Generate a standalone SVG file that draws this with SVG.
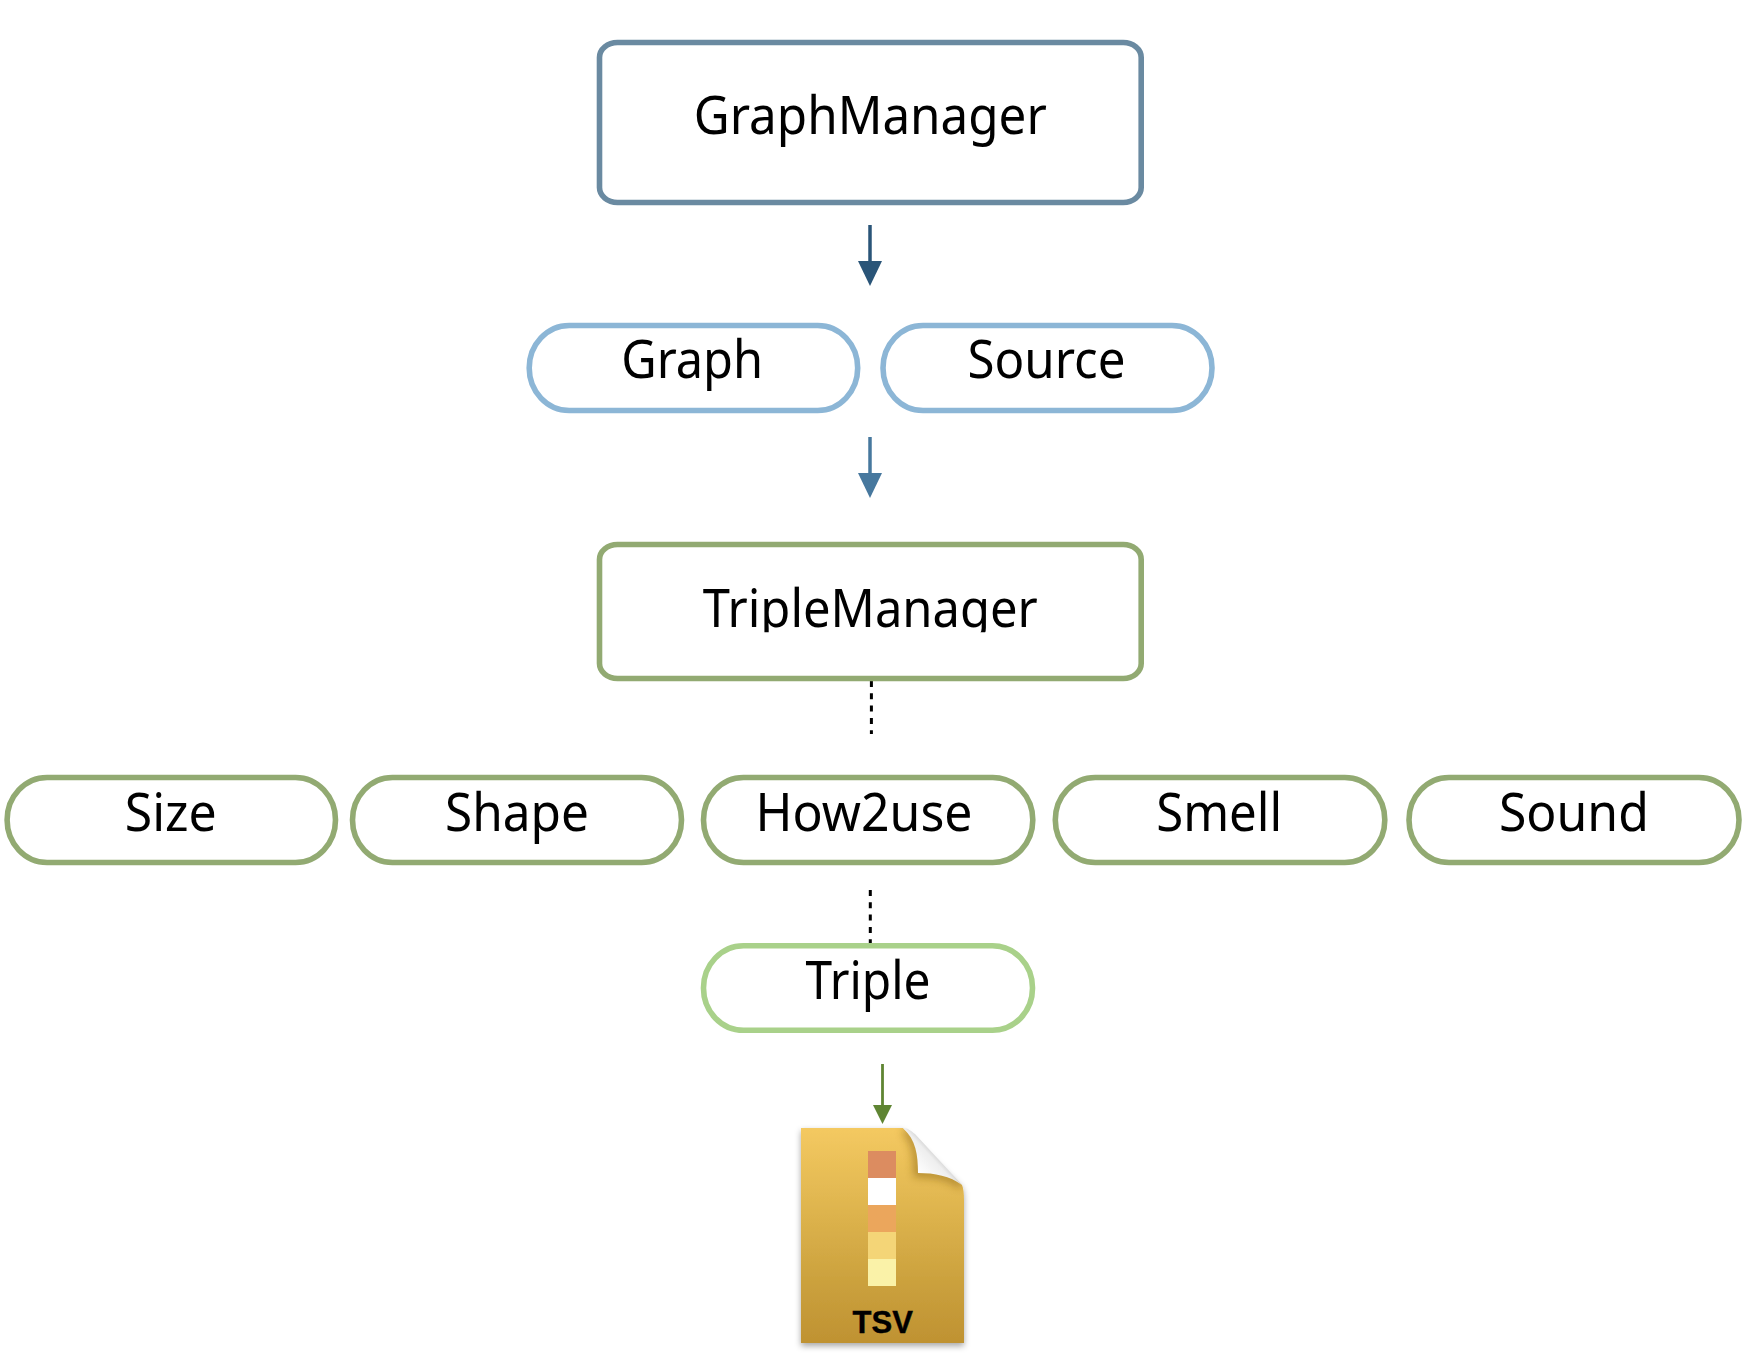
<svg xmlns="http://www.w3.org/2000/svg" width="1756" height="1372" viewBox="0 0 1756 1372">
<style>
.t{font-family:"Noto Sans","Open Sans",sans-serif;font-size:52px;fill:#000;text-anchor:middle}
.n{fill:#fff;stroke-width:5.6}
.d{stroke:#000;stroke-width:3;stroke-dasharray:6 6.3;fill:none}
.g{stroke:#92aa72}
.b{stroke:#8cb6d6}
</style>
<defs>
<linearGradient id="fg" x1="0" y1="0" x2="0" y2="1"><stop offset="0" stop-color="#f4c961"/><stop offset="0.3" stop-color="#e3b952"/><stop offset="0.7" stop-color="#cca23e"/><stop offset="1" stop-color="#bf9232"/></linearGradient>
<linearGradient id="cu" gradientUnits="userSpaceOnUse" x1="916" y1="1172" x2="942" y2="1148"><stop offset="0" stop-color="#fff"/><stop offset="0.6" stop-color="#eeeeee"/><stop offset="1" stop-color="#a8a8a8"/></linearGradient>
<filter id="sh" x="-10%" y="-10%" width="120%" height="120%"><feDropShadow dx="0" dy="3" stdDeviation="3" flood-color="#000" flood-opacity="0.35"/></filter>
<filter id="bl" x="-30%" y="-30%" width="160%" height="160%"><feGaussianBlur stdDeviation="4"/></filter>
<clipPath id="tm"><rect x="690" y="560" width="380" height="72.3"/></clipPath>
<clipPath id="pg"><path d="M801 1128H903L962 1185Q964 1190 964 1200V1343H801Z"/></clipPath>
</defs>
<g id="connectors">
<path d="M870 225V263" stroke="#2a5578" stroke-width="3.5" fill="none"/><path d="M858 261H882L870 286Z" fill="#2a5578"/>
<path d="M870 437V475" stroke="#47789e" stroke-width="3.5" fill="none"/><path d="M858 473H882L870 498Z" fill="#47789e"/>
<path class="d" d="M871.4 681V734"/>
<path class="d" d="M870.3 890V943"/>
<path d="M882.5 1064V1107" stroke="#5f8533" stroke-width="2.8" fill="none"/><path d="M873 1105H892L882.5 1124Z" fill="#5f8533"/>
</g>
<g id="GraphManager"><rect class="n" x="599.5" y="42.5" width="541.7" height="160" rx="18" ry="15" stroke="#6a8aa1"/><text class="t" x="870.3" y="134" textLength="353" lengthAdjust="spacingAndGlyphs">GraphManager</text></g>
<g id="Graph"><rect class="n b" x="529.2" y="325.5" width="328.5" height="85" rx="40" ry="42.5"/><text class="t" x="692.2" y="378" textLength="142" lengthAdjust="spacingAndGlyphs">Graph</text></g>
<g id="Source"><rect class="n b" x="883" y="325.5" width="329" height="85" rx="40" ry="42.5"/><text class="t" x="1046.5" y="378" textLength="158" lengthAdjust="spacingAndGlyphs">Source</text></g>
<g id="TripleManager"><rect class="n g" x="599.5" y="544.5" width="541.7" height="134" rx="18" ry="15"/><text class="t" x="870.3" y="627" clip-path="url(#tm)" textLength="335" lengthAdjust="spacingAndGlyphs">TripleManager</text></g>
<g id="Size"><rect class="n g" x="7.1" y="777.5" width="328.4" height="85" rx="40" ry="42.5"/><text class="t" x="170.8" y="831" textLength="92" lengthAdjust="spacingAndGlyphs">Size</text></g>
<g id="Shape"><rect class="n g" x="352.5" y="777.5" width="329" height="85" rx="40" ry="42.5"/><text class="t" x="517" y="831" textLength="144" lengthAdjust="spacingAndGlyphs">Shape</text></g>
<g id="How2use"><rect class="n g" x="703.5" y="777.5" width="329.3" height="85" rx="40" ry="42.5"/><text class="t" x="864" y="831" textLength="217" lengthAdjust="spacingAndGlyphs">How2use</text></g>
<g id="Smell"><rect class="n g" x="1055.3" y="777.5" width="329.5" height="85" rx="40" ry="42.5"/><text class="t" x="1219.2" y="831" textLength="126" lengthAdjust="spacingAndGlyphs">Smell</text></g>
<g id="Sound"><rect class="n g" x="1409" y="777.5" width="330" height="85" rx="40" ry="42.5"/><text class="t" x="1573.9" y="831" textLength="150" lengthAdjust="spacingAndGlyphs">Sound</text></g>
<g id="Triple"><rect class="n" x="703.5" y="945.8" width="329" height="84.5" rx="40" ry="42" stroke="#a9d18a"/><text class="t" x="868" y="999" textLength="125" lengthAdjust="spacingAndGlyphs">Triple</text></g>
<g id="TSV">
<path d="M801 1128H903L962 1185Q964 1190 964 1200V1343H801Z" fill="url(#fg)" filter="url(#sh)"/>
<g clip-path="url(#pg)"><path d="M905 1130C916 1140 918 1155 918 1173C935 1173 950 1176 962 1185" fill="none" stroke="#8a6518" stroke-width="8" opacity="0.6" filter="url(#bl)"/></g>
<path d="M903 1128C908 1128 911 1131 915 1134L962 1185C950 1176 935 1173 918 1173C918 1155 916 1140 903 1128Z" fill="url(#cu)"/>
<rect x="868" y="1151" width="28" height="27" fill="#dc8c60"/>
<rect x="868" y="1178" width="28" height="27" fill="#fff"/>
<rect x="868" y="1205" width="28" height="27" fill="#eba65c"/>
<rect x="868" y="1232" width="28" height="27" fill="#f4d577"/>
<rect x="868" y="1259" width="28" height="27" fill="#faf2a8"/>
<text x="882.7" y="1332.7" font-family="'Liberation Sans',Arial,sans-serif" font-weight="700" font-size="31" text-anchor="middle" fill="#000" stroke="#000" stroke-width="0.4">TSV</text>
</g>
</svg>
